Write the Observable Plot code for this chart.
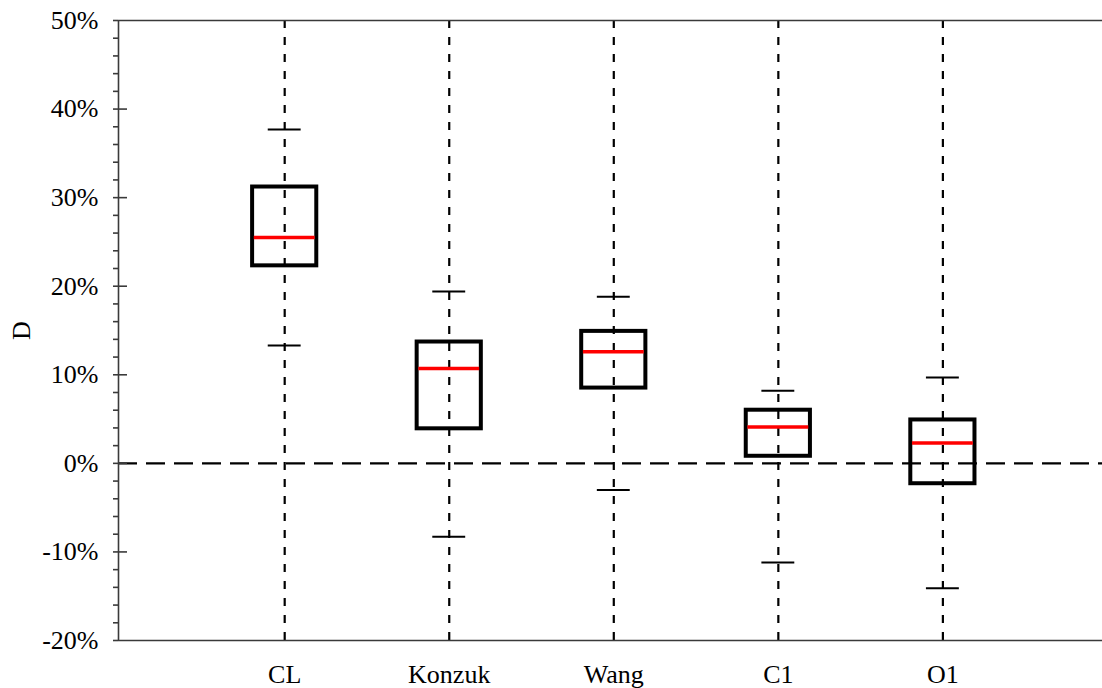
<!DOCTYPE html>
<html>
<head>
<meta charset="utf-8">
<script src="https://cdn.jsdelivr.net/npm/d3@7"></script>
<script src="https://cdn.jsdelivr.net/npm/@observablehq/plot@0.6"></script>
<style>
  body { margin: 0; background: #fff; }
</style>
</head>
<body>
<div id="chart"></div>
<script>
// Box-plot summaries of D for each method (fractions, shown as percent)
const categories = ["CL", "Konzuk", "Wang", "C1", "O1"];
const whiskerLow  = [0.133, -0.083, -0.030, -0.112, -0.141];
const quartile1   = [0.223,  0.039,  0.085,  0.008, -0.023];
const medians     = [0.255,  0.107,  0.126,  0.041,  0.023];
const quartile3   = [0.312,  0.137,  0.149,  0.060,  0.049];
const whiskerHigh = [0.377,  0.194,  0.188,  0.082,  0.097];

const boxes = categories.map((name, i) => ({
  i, name,
  low: whiskerLow[i], q1: quartile1[i], median: medians[i],
  q3: quartile3[i], high: whiskerHigh[i]
}));
const positions = categories.map((_, i) => i);

const yMin = -0.2, yMax = 0.5;
const xDomain = [-1.01, 4.97];
const majorTicks = d3.range(-20, 51, 10).map(v => v / 100);
const minorTicks = d3.range(-20, 51, 2).map(v => v / 100);
const boxHalf = 0.195, capHalf = 0.1;
const axisColor = "#3a3a3a";
const pct = d => Math.round(d * 100);

const chart = Plot.plot({
  width: 1102,
  height: 688,
  marginLeft: 118,
  marginRight: 0,
  marginTop: 20,
  marginBottom: 48,
  style: {
    fontFamily: "'Liberation Serif', 'Times New Roman', serif",
    fontSize: "26px",
    color: "#000",
    background: "#fff"
  },
  x: { type: "linear", domain: xDomain },
  y: { domain: [yMin, yMax] },
  marks: [
    // dashed guide through each method
    Plot.ruleX(positions, { x: d => d, stroke: "#000", strokeWidth: 2.2, strokeDasharray: "8,9" }),
    // zero reference
    Plot.ruleY([0], { stroke: "#000", strokeWidth: 2.4, strokeDasharray: "19,9" }),
    // whisker caps
    Plot.ruleY(boxes, { y: "high", x1: d => d.i - capHalf, x2: d => d.i + capHalf, stroke: "#000", strokeWidth: 2 }),
    Plot.ruleY(boxes, { y: "low", x1: d => d.i - capHalf, x2: d => d.i + capHalf, stroke: "#000", strokeWidth: 2 }),
    // interquartile boxes
    Plot.rect(boxes, { x1: d => d.i - boxHalf, x2: d => d.i + boxHalf, y1: "q1", y2: "q3", fill: "none", stroke: "#000", strokeWidth: 4 }),
    // medians
    Plot.ruleY(boxes, { y: "median", x1: d => d.i - boxHalf + 0.01, x2: d => d.i + boxHalf - 0.01, stroke: "#ff0000", strokeWidth: 3.5 }),
    // plot borders (top, bottom, left)
    Plot.ruleY([yMin, yMax], { stroke: axisColor, strokeWidth: 1.6 }),
    Plot.ruleX([xDomain[0]], { stroke: axisColor, strokeWidth: 1.6 }),
    // inner part of major y ticks
    Plot.tickY(majorTicks.filter(v => v > yMin && v < yMax), { y: d => d, insetRight: 1102 - 118 - 9, stroke: axisColor, strokeWidth: 1.6 }),
    // y axis: minor ticks every 2%, labels every 10%
    Plot.axisY({
      ticks: minorTicks,
      tickSize: 5,
      tickPadding: 15,
      stroke: axisColor,
      strokeWidth: 1.6,
      tickFormat: d => (pct(d) % 10 === 0 ? pct(d) + "%" : ""),
      fill: "#000",
      fontSize: 26,
      label: "D",
      labelAnchor: "center",
      labelArrow: "none",
      labelOffset: 107
    }),
    // x axis: method names
    Plot.axisX({
      ticks: positions,
      tickSize: 0,
      tickPadding: 24,
      tickFormat: i => categories[i],
      fill: "#000",
      fontSize: 26,
      label: null
    })
  ]
});

document.getElementById("chart").appendChild(chart);
</script>
</body>
</html>
